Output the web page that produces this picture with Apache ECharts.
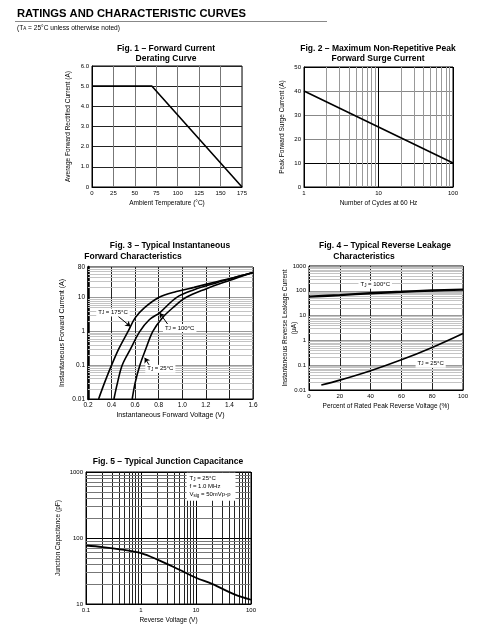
<!DOCTYPE html>
<html><head><meta charset="utf-8">
<script src="https://cdn.jsdelivr.net/npm/echarts@6/dist/echarts.min.js"></script>
<style>html,body{margin:0;padding:0;background:#fff}#c{width:498px;height:629px}</style>
</head><body><div id="c"></div>
<script>
const FONT = '"Liberation Sans", Arial, Helvetica, sans-serif';

// ---- Fig 1: Forward current derating ----
const fig1Temp = [0, 70, 175];
const fig1Current = [5.0, 5.0, 0];
// ---- Fig 2: Surge current ----
const fig2Cycles = [1, 10, 100];
const fig2Current = [40, 25, 10];
// ---- Fig 3: Forward characteristics ----
const fig3V175 = [0.29, 0.34, 0.40, 0.46, 0.54, 0.60, 0.68, 0.80, 0.95, 1.10, 1.30, 1.45, 1.60];
const fig3I175 = [0.01, 0.03, 0.1, 0.3, 1, 2.5, 5, 10, 15, 20, 30, 40, 55];
const fig3V100 = [0.42, 0.45, 0.49, 0.56, 0.64, 0.72, 0.81, 0.95, 1.10, 1.30, 1.45, 1.60];
const fig3I100 = [0.01, 0.03, 0.1, 0.3, 1, 2.2, 3.6, 10, 17, 28, 40, 55];
const fig3V25 = [0.575, 0.60, 0.64, 0.69, 0.75, 0.83, 0.92, 1.03, 1.20, 1.40, 1.60];
const fig3I25 = [0.01, 0.03, 0.1, 0.3, 1, 2.5, 5, 10, 18, 32, 55];
// ---- Fig 4: Reverse leakage ----
const fig4Pct100 = [0, 20, 40, 60, 80, 100];
const fig4Leak100 = [58, 67, 80, 91, 103, 112];
const fig4Pct25 = [8, 20, 40, 60, 80, 100];
const fig4Leak25 = [0.016, 0.025, 0.06, 0.165, 0.52, 1.9];
// ---- Fig 5: Junction capacitance ----
const fig5Volt = [0.1, 0.2, 0.5, 1, 2, 5, 10, 20, 50, 100];
const fig5Cap = [77, 73, 66, 59, 47, 33, 25, 20, 14, 11.6];

// log-grid minor line positions (2..9 x 10^k)
const fig2MinorX = [2,3,4,5,6,7,8,9,20,30,40,50,60,70,80,90];
const fig3MinorY = [0.02,0.03,0.04,0.05,0.06,0.07,0.08,0.09,0.2,0.3,0.4,0.5,0.6,0.7,0.8,0.9,2,3,4,5,6,7,8,9,20,30,40,50,60,70];
const fig4MinorY = [0.02,0.03,0.04,0.05,0.06,0.07,0.08,0.09,0.2,0.3,0.4,0.5,0.6,0.7,0.8,0.9,2,3,4,5,6,7,8,9,20,30,40,50,60,70,80,90,200,300,400,500,600,700,800,900];
const fig5MinorX = [0.2,0.3,0.4,0.5,0.6,0.7,0.8,0.9,2,3,4,5,6,7,8,9,20,30,40,50,60,70,80,90];
const fig5MinorY = [20,30,40,50,60,70,80,90,200,300,400,500,600,700,800,900];

const zip = (a, b) => a.map((v, i) => [v, b[i]]);
const sub = { s: { fontSize: 4.5, verticalAlign: 'bottom', fontFamily: FONT } };
const numFmt = v => String(+(+v).toPrecision(6));

const grids = [
  { left: 92, top: 66, width: 150, height: 121 },
  { left: 304, top: 67, width: 149, height: 120 },
  { left: 88, top: 267, width: 165, height: 132 },
  { left: 309, top: 266, width: 154, height: 124 },
  { left: 86, top: 472, width: 165, height: 132 }
].map(g => Object.assign(g, { show: true, borderColor: '#000', borderWidth: 1, containLabel: false }));

function axisBase(idx, extra) {
  return Object.assign({
    gridIndex: idx,
    axisLine: { show: true, lineStyle: { color: '#000', width: 1 } },
    axisTick: { show: false },
    axisLabel: { fontSize: 6, color: '#000', fontFamily: FONT, margin: 3, formatter: numFmt },
    nameLocation: 'middle',
    nameMoveOverlap: false,
    nameTextStyle: { fontSize: 6.5, color: '#000', fontFamily: FONT },
    splitLine: { show: true, lineStyle: { color: '#222', width: 1 } }
  }, extra);
}

const xAxis = [
  axisBase(0, { type: 'value', min: 0, max: 175, interval: 25, name: 'Ambient Temperature (°C)', nameGap: 13,
    splitLine: { show: true, lineStyle: { color: '#777', width: 1 } } }),
  axisBase(1, { type: 'log', logBase: 10, min: 1, max: 100, name: 'Number of Cycles at 60 Hz', nameGap: 13,
    splitLine: { show: true, lineStyle: { color: '#000', width: 1 } } }),
  axisBase(2, { type: 'value', min: 0.2, max: 1.6, interval: 0.2, name: 'Instantaneous Forward Voltage (V)', nameGap: 13,
    axisLabel: { fontSize: 6.5, color: '#000', fontFamily: FONT, margin: 3, formatter: v => (+v).toFixed(1) },
    nameTextStyle: { fontSize: 7, color: '#000', fontFamily: FONT } }),
  axisBase(3, { type: 'value', min: 0, max: 100, interval: 20, name: 'Percent of Rated Peak Reverse Voltage (%)', nameGap: 13 }),
  axisBase(4, { type: 'log', logBase: 10, min: 0.1, max: 100, name: 'Reverse Voltage (V)', nameGap: 13,
    splitLine: { show: true, lineStyle: { color: '#000', width: 1 } } })
];

const yAxis = [
  axisBase(0, { type: 'value', min: 0, max: 6, interval: 1, name: 'Average Forward Rectified Current (A)', nameGap: 20,
    axisLabel: { fontSize: 6, color: '#000', fontFamily: FONT, margin: 3, formatter: v => v === 0 ? '0' : (+v).toFixed(1) } }),
  axisBase(1, { type: 'value', min: 0, max: 50, interval: 10, name: 'Peak Forward Surge Current (A)', nameGap: 18,
    splitLine: { show: true, lineStyle: { color: ['#000', '#000', '#888', '#888', '#888', '#000'], width: 1 } } }),
  axisBase(2, { type: 'log', logBase: 10, min: 0.01, max: 80, name: 'Instantaneous Forward Current (A)', nameGap: 22,
    axisLine: { show: true, lineStyle: { color: '#000', width: 2.5 } },
    axisLabel: { fontSize: 6.5, color: '#000', fontFamily: FONT, margin: 3, formatter: numFmt },
    nameTextStyle: { fontSize: 7, color: '#000', fontFamily: FONT },
    splitLine: { show: true, lineStyle: { color: '#999', width: 1 } } }),
  axisBase(3, { type: 'log', logBase: 10, min: 0.01, max: 1000, name: 'Instantaneous Reverse Leakage Current\n(µA)', nameGap: 10,
    nameTextStyle: { fontSize: 6.5, color: '#000', fontFamily: FONT, lineHeight: 9 },
    splitLine: { show: true, lineStyle: { color: '#999', width: 1 } } }),
  axisBase(4, { type: 'log', logBase: 10, min: 10, max: 1000, name: 'Junction Capacitance (pF)', nameGap: 24,
    splitLine: { show: true, lineStyle: { color: '#000', width: 1 } } })
];

function gridLines(idx, xs, ys, colX, colY) {
  const data = [];
  (xs || []).forEach(v => data.push({ xAxis: v, lineStyle: { color: colX, width: 1, type: 'solid' } }));
  (ys || []).forEach(v => data.push({ yAxis: v, lineStyle: { color: colY, width: 1, type: 'solid' } }));
  return {
    type: 'line', xAxisIndex: idx, yAxisIndex: idx, data: [], z: 1, silent: true, symbol: 'none',
    markLine: { z: 1, silent: true, symbol: 'none', label: { show: false }, animation: false, data: data }
  };
}

function curve(idx, pts, width) {
  return {
    type: 'line', xAxisIndex: idx, yAxisIndex: idx, data: pts, smooth: 0.35, symbol: 'none', z: 6,
    lineStyle: { color: '#000', width: width || 1.6 }, silent: true, animation: false
  };
}

const labelStyle = {
  show: true, position: 'inside', color: '#000', fontSize: 6, fontFamily: FONT,
  backgroundColor: '#fff', padding: [1, 2], rich: sub
};
function tag(coord, text, extraLabel) {
  return { coord: coord, value: 0, label: Object.assign({}, labelStyle, { formatter: text }, extraLabel || {}) };
}
function arrow(from, to) {
  return [{ coord: from }, { coord: to }];
}

const s175 = curve(2, zip(fig3V175, fig3I175));
s175.markPoint = {
  z: 7, symbol: 'rect', symbolSize: 1, itemStyle: { color: 'rgba(0,0,0,0)' }, silent: true, animation: false,
  data: [
    tag([0.412, 3.6], 'T{s|J} = 175°C'),
    tag([0.978, 1.25], 'T{s|J} = 100°C'),
    tag([0.814, 0.078], 'T{s|J} = 25°C')
  ]
};
s175.markLine = {
  z: 7, silent: true, symbol: ['none', 'arrow'], symbolSize: 5, label: { show: false }, animation: false,
  lineStyle: { color: '#000', width: 1, type: 'solid' },
  data: [
    arrow([0.455, 2.8], [0.56, 1.4]),
    arrow([0.879, 1.58], [0.808, 3.5]),
    arrow([0.723, 0.096], [0.681, 0.165])
  ]
};

const s4a = curve(3, zip(fig4Pct100, fig4Leak100), 2.4);
const s4b = curve(3, zip(fig4Pct25, fig4Leak25), 1.6);
s4b.markPoint = {
  z: 7, symbol: 'rect', symbolSize: 1, itemStyle: { color: 'rgba(0,0,0,0)' }, silent: true, animation: false,
  data: [
    tag([43, 175], 'T{s|J} = 100°C'),
    tag([79, 0.115], 'T{s|J} = 25°C')
  ]
};

const s5 = curve(4, zip(fig5Volt, fig5Cap), 1.8);
s5.markPoint = {
  z: 7, symbol: 'rect', symbolSize: 1, itemStyle: { color: 'rgba(0,0,0,0)' }, silent: true, animation: false,
  data: [
    tag([6.6, 600], 'T{s|J} = 25°C\nf = 1.0 MHz\nV{s|sig} = 50mVp-p',
      { position: 'right', distance: 0, align: 'left', lineHeight: 8, padding: [2, 5, 2, 3] })
  ]
};

const series = [
  curve(0, zip(fig1Temp, fig1Current), 1.6),
  gridLines(1, fig2MinorX, null, '#999', '#999'),
  curve(1, zip(fig2Cycles, fig2Current), 1.6),
  gridLines(2, null, fig3MinorY, '#bbb', '#c4c4c4'),
  s175,
  curve(2, zip(fig3V100, fig3I100)),
  curve(2, zip(fig3V25, fig3I25)),
  gridLines(3, null, fig4MinorY, '#bbb', '#c4c4c4'),
  s4a, s4b,
  gridLines(4, fig5MinorX, fig5MinorY, '#222', '#777'),
  s5
];
series[0].smooth = false;
series[2].smooth = false;

function txt(x, y, text, size, opts) {
  return {
    type: 'text', x: x, y: y, silent: true,
    style: Object.assign({ text: text, fontSize: size, fontFamily: FONT, fill: '#000', align: 'center', verticalAlign: 'middle', rich: sub }, opts || {})
  };
}

const graphic = [
  txt(17, 14, 'RATINGS AND CHARACTERISTIC CURVES', 11.2, { align: 'left', fontWeight: 'bold' }),
  { type: 'line', silent: true, shape: { x1: 15, y1: 21.5, x2: 327, y2: 21.5 }, style: { stroke: '#888', lineWidth: 1 } },
  txt(17, 28, '(T{s|A} = 25°C unless otherwise noted)', 6.6, { align: 'left' }),
  txt(166, 54, 'Fig. 1 – Forward Current\nDerating Curve', 8.5, { fontWeight: 'bold', lineHeight: 10 }),
  txt(378, 54, 'Fig. 2 – Maximum Non-Repetitive Peak\nForward Surge Current', 8.5, { fontWeight: 'bold', lineHeight: 10 }),
  txt(170, 246, 'Fig. 3 – Typical Instantaneous', 8.5, { fontWeight: 'bold' }),
  txt(133, 257, 'Forward Characteristics', 8.5, { fontWeight: 'bold' }),
  txt(385, 246, 'Fig. 4 – Typical Reverse Leakage', 8.5, { fontWeight: 'bold' }),
  txt(364, 257, 'Characteristics', 8.5, { fontWeight: 'bold' }),
  txt(168, 462, 'Fig. 5 – Typical Junction Capacitance', 8.5, { fontWeight: 'bold' })
];

const chart = echarts.init(document.getElementById('c'), null, { renderer: 'canvas' });
chart.setOption({
  animation: false,
  backgroundColor: '#fff',
  grid: grids,
  xAxis: xAxis,
  yAxis: yAxis,
  series: series,
  graphic: graphic
});
</script>
</body></html>
